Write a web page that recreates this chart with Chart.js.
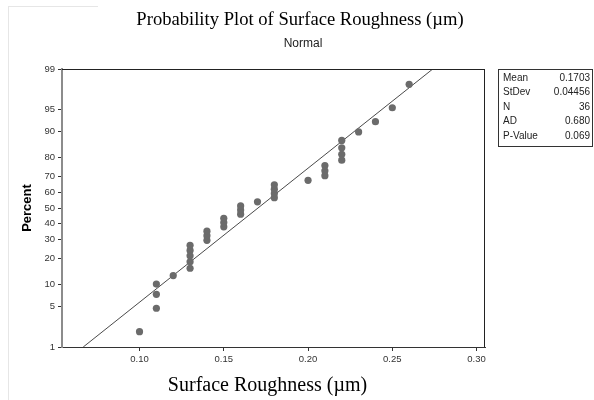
<!DOCTYPE html>
<html>
<head>
<meta charset="utf-8">
<script src="https://cdn.jsdelivr.net/npm/chart.js@4.4.1/dist/chart.umd.min.js"></script>
<style>
html,body{margin:0;padding:0;background:#fff;}
#wrap{width:594px;height:400px;}
</style>
</head>
<body>
<div id="wrap"><canvas id="chart" width="594" height="400"></canvas></div>
<script>
const roughness = [0.10, 0.11, 0.11, 0.11, 0.12, 0.13, 0.13, 0.13, 0.13, 0.13, 0.14, 0.14,
  0.14, 0.15, 0.15, 0.15, 0.16, 0.16, 0.16, 0.17, 0.18, 0.18, 0.18, 0.18,
  0.20, 0.21, 0.21, 0.21, 0.22, 0.22, 0.22, 0.22, 0.23, 0.24, 0.25, 0.26];
const percent = [1.92, 4.67, 7.42, 10.16, 12.91, 15.66, 18.41, 21.15, 23.90, 26.65, 29.40, 32.14,
  34.89, 37.64, 40.38, 43.13, 45.88, 48.63, 51.37, 54.12, 56.87, 59.62, 62.36, 65.11,
  67.86, 70.60, 73.35, 76.10, 78.85, 81.59, 84.34, 87.09, 89.84, 92.58, 95.33, 98.08];
// fitted normal line end points (1% and 99%)
const fitX = [0.0666, 0.2740];
const fitPct = [1, 99];
const xTicks = [0.10, 0.15, 0.20, 0.25, 0.30];
const yTicks = [1, 5, 10, 20, 30, 40, 50, 60, 70, 80, 90, 95, 99];
const statLabels = ['Mean', 'StDev', 'N', 'AD', 'P-Value'];
const statValues = ['0.1703', '0.04456', '36', '0.680', '0.069'];

// inverse normal cdf (Acklam)
function probit(p){
  const a=[-39.69683028665376,220.9460984245205,-275.9285104469687,138.3577518672690,-30.66479806614716,2.506628277459239];
  const b=[-54.47609879822406,161.5858368580409,-155.6989798598866,66.80131188771972,-13.28068155288572];
  const c=[-0.007784894002430293,-0.3223964580411365,-2.400758277161838,-2.549732539343734,4.374664141464968,2.938163982698783];
  const d=[0.007784695709041462,0.3224671290700398,2.445134137142996,3.754408661907416];
  const pl=0.02425;
  let q,r;
  if(p<pl){
    q=Math.sqrt(-2*Math.log(p));
    return (((((c[0]*q+c[1])*q+c[2])*q+c[3])*q+c[4])*q+c[5])/((((d[0]*q+d[1])*q+d[2])*q+d[3])*q+1);
  }
  if(p>1-pl){
    q=Math.sqrt(-2*Math.log(1-p));
    return -(((((c[0]*q+c[1])*q+c[2])*q+c[3])*q+c[4])*q+c[5])/((((d[0]*q+d[1])*q+d[2])*q+d[3])*q+1);
  }
  q=p-0.5; r=q*q;
  return (((((a[0]*r+a[1])*r+a[2])*r+a[3])*r+a[4])*r+a[5])*q/(((((b[0]*r+b[1])*r+b[2])*r+b[3])*r+b[4])*r+1);
}
function normCdf(z){
  const t=1/(1+0.3275911*Math.abs(z)/Math.SQRT2);
  const e=1-(((((1.061405429*t-1.453152027)*t)+1.421413741)*t-0.284496736)*t+0.254829592)*t*Math.exp(-z*z/2);
  return z>=0 ? (1+e)/2 : (1-e)/2;
}

// probability (probit) axis
class ProbitScale extends Chart.LinearScale {
  static id = 'probit';
  static defaults = {};
  determineDataLimits(){ const {min,max}=this.getUserBounds(); this.min=min; this.max=max; }
  buildTicks(){ return yTicks.map(v=>({value:v})); }
  configure(){ super.configure(); this._z0=probit(this.min/100); this._z1=probit(this.max/100); }
  getPixelForValue(v){ return this.getPixelForDecimal((probit(v/100)-this._z0)/(this._z1-this._z0)); }
  getValueForPixel(px){ return 100*normCdf(this._z0+this.getDecimalForPixel(px)*(this._z1-this._z0)); }
}
Chart.register(ProbitScale);

// titles, frame and stats box
const extras = {
  id:'extras',
  afterDraw(chart){
    const {ctx, chartArea:a} = chart;
    ctx.save();
    ctx.strokeStyle='#e6e6e6'; ctx.lineWidth=1;
    ctx.beginPath(); ctx.moveTo(8,6.5); ctx.lineTo(98,6.5); ctx.moveTo(8.5,6); ctx.lineTo(8.5,400); ctx.stroke();

    ctx.strokeStyle='#222';
    ctx.beginPath();
    ctx.moveTo(a.left, a.top+0.5); ctx.lineTo(a.right, a.top+0.5);
    ctx.moveTo(a.right-0.5, a.top); ctx.lineTo(a.right-0.5, a.bottom);
    ctx.stroke();

    ctx.fillStyle='#000'; ctx.textAlign='center'; ctx.textBaseline='alphabetic';
    ctx.font='18.6px "Liberation Serif"';
    ctx.fillText('Probability Plot of Surface Roughness (\u00b5m)', 300, 25);
    ctx.font='12px "Liberation Sans"';
    ctx.fillStyle='#222';
    ctx.fillText('Normal', 303, 47);
    ctx.fillStyle='#000';
    ctx.font='20px "Liberation Serif"';
    ctx.fillText('Surface Roughness (\u00b5m)', 267.5, 391);

    // stats box
    ctx.strokeStyle='#333';
    ctx.strokeRect(498.5, 69.5, 94, 77);
    ctx.font='10px "Liberation Sans"'; ctx.fillStyle='#222'; ctx.textBaseline='middle';
    statLabels.forEach((l,i)=>{
      const y=78+i*14.5;
      ctx.textAlign='left'; ctx.fillText(l, 503, y);
      ctx.textAlign='right'; ctx.fillText(statValues[i], 590, y);
    });
    ctx.restore();
  }
};

const tickFont = {family:'Liberation Sans', size:9.5};
new Chart(document.getElementById('chart'), {
  type:'scatter',
  data:{
    datasets:[
      {
        type:'line',
        data:fitX.map((x,i)=>({x, y:fitPct[i]})),
        borderColor:'#4a4a4a', borderWidth:1, pointRadius:0, fill:false, order:2
      },
      {
        data:roughness.map((x,i)=>({x, y:percent[i]})),
        backgroundColor:'#6b6b6b', borderColor:'#6b6b6b', borderWidth:0, pointRadius:3.6, order:1
      }
    ]
  },
  options:{
    responsive:false, animation:false,
    layout:{padding:{top:69, right:109, left:0, bottom:0}},
    plugins:{legend:{display:false}, tooltip:{enabled:false}, title:{display:false}},
    scales:{
      x:{
        type:'linear', min:0.054, max:0.305,
        afterBuildTicks:s=>{ s.ticks = xTicks.map(v=>({value:v})); },
        afterFit:s=>{ s.height = 53; },
        ticks:{callback:v=>v.toFixed(2), font:tickFont, color:'#333', padding:3, autoSkip:false, maxRotation:0},
        grid:{drawOnChartArea:false, drawTicks:true, tickLength:4, tickColor:'#333', tickWidth:1},
        border:{color:'#333', width:1}
      },
      y:{
        type:'probit', min:1, max:99,
        afterFit:s=>{ s.width = 62; },
        ticks:{callback:v=>String(v), font:tickFont, color:'#333', padding:3, autoSkip:false},
        grid:{drawOnChartArea:false, drawTicks:true, tickLength:4, tickColor:'#333', tickWidth:1},
        border:{color:'#8c8c8c', width:2},
        title:{display:true, text:'Percent', color:'#000', font:{family:'Liberation Sans', size:13, weight:'bold'}, padding:{top:20, bottom:0}}
      }
    }
  },
  plugins:[extras]
});
</script>
</body>
</html>
